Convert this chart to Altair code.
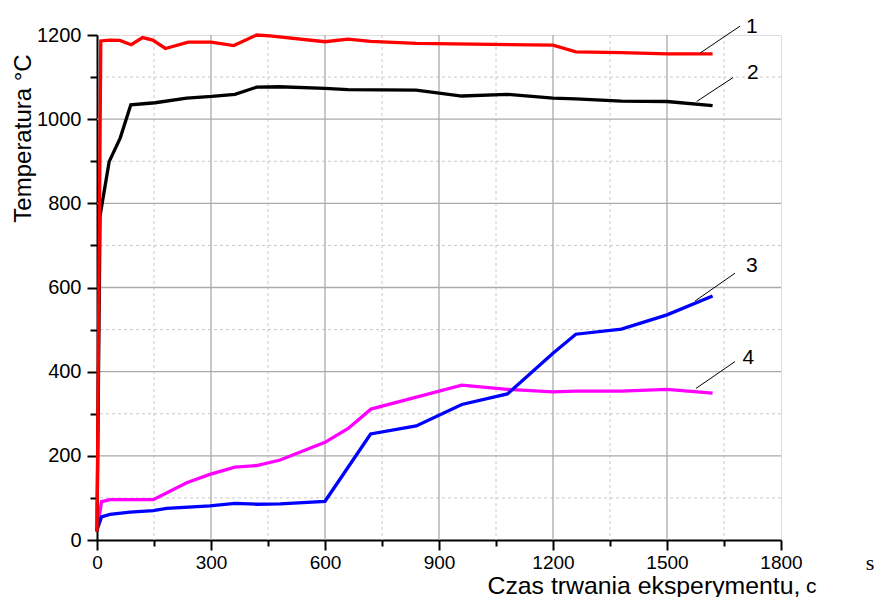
import altair as alt
import pandas as pd

# ---- data ----
red_t = [0, 10, 34, 60, 90, 120, 147, 180, 240, 300, 360, 420, 455, 600, 660, 720, 840, 1200, 1260, 1380, 1500, 1620]
red_v = [20, 1186, 1188, 1187, 1177, 1194, 1188, 1168, 1183, 1183, 1175, 1200, 1198, 1184, 1190, 1185, 1180, 1176, 1160, 1158, 1155, 1155]

black_t = [0, 8, 32, 61, 89, 153, 236, 302, 363, 420, 480, 600, 660, 840, 960, 1080, 1200, 1260, 1380, 1500, 1620]
black_v = [20, 770, 899, 955, 1034, 1039, 1050, 1054, 1059, 1076, 1077, 1073, 1070, 1069, 1055, 1059, 1050, 1048, 1043, 1042, 1032]

blue_t = [0, 12, 34, 87, 148, 183, 297, 363, 420, 482, 600, 720, 840, 960, 1080, 1200, 1260, 1380, 1500, 1620]
blue_v = [24, 55, 61, 66, 70, 75, 81, 87, 85, 86, 92, 252, 271, 322, 347, 444, 489, 501, 535, 580]

mag_t = [0, 12, 34, 148, 236, 297, 363, 420, 482, 600, 661, 721, 960, 1080, 1200, 1260, 1380, 1500, 1620]
mag_v = [24, 91, 96, 96, 136, 156, 173, 177, 190, 232, 265, 311, 368, 358, 352, 354, 354, 358, 349]

x_major = [0, 300, 600, 900, 1200, 1500, 1800]
x_minor = [150, 450, 750, 1050, 1350, 1650]
y_major = [0, 200, 400, 600, 800, 1000, 1200]
y_minor = [100, 300, 500, 700, 900, 1100]

xgrid_major = [300, 600, 900, 1200, 1500]
ygrid_major = [200, 400, 600, 800, 1000]

label_text = ["1", "2", "3", "4"]
label_x = [1723, 1726, 1723, 1714]
label_y = [1220, 1110, 650, 432]
leader_x = [1587, 1578, 1574, 1576]
leader_y = [1157, 1042, 568, 360]
leader_x2 = [1692, 1674, 1679, 1679]
leader_y2 = [1221, 1099, 634, 424]

FONT = "Liberation Sans"
xs = alt.Scale(domain=[0, 1800], nice=False)
ys = alt.Scale(domain=[0, 1200], nice=False)


def line(t, v, color):
    df = pd.DataFrame({"t": t, "v": v})
    return alt.Chart(df).mark_line(color=color, strokeWidth=3.3, strokeJoin="miter").encode(
        x=alt.X("t:Q", scale=xs, axis=None),
        y=alt.Y("v:Q", scale=ys, axis=None),
    )


# grid lines
gx_major = alt.Chart(pd.DataFrame({"g": xgrid_major})).mark_rule(color="#aaaaaa", strokeWidth=1.3).encode(
    x=alt.X("g:Q", scale=xs, axis=None))
gx_minor = alt.Chart(pd.DataFrame({"g": x_minor})).mark_rule(color="#c8c8c8", strokeWidth=1, strokeDash=[3, 3]).encode(
    x=alt.X("g:Q", scale=xs, axis=None))
gy_major = alt.Chart(pd.DataFrame({"g": ygrid_major})).mark_rule(color="#aaaaaa", strokeWidth=1.3).encode(
    y=alt.Y("g:Q", scale=ys, axis=None))
gy_minor = alt.Chart(pd.DataFrame({"g": y_minor})).mark_rule(color="#c8c8c8", strokeWidth=1, strokeDash=[3, 3]).encode(
    y=alt.Y("g:Q", scale=ys, axis=None))

# major axes (with labels and titles)
major_axes = alt.Chart(pd.DataFrame({"t": [0], "v": [0]})).mark_point(opacity=0).encode(
    x=alt.X("t:Q", scale=xs, axis=alt.Axis(
        orient="bottom", values=x_major, format="d", grid=False, tickSize=10, tickWidth=2, tickColor="black",
        domainColor="black", domainWidth=2, labelFont=FONT, labelFontSize=19, labelColor="black",
        labelPadding=3, labelFlush=False, labelOverlap=False,
        title="Czas trwania eksperymentu,", titleFont=FONT, titleFontSize=24.8, titleFontWeight="normal",
        titleColor="black", titleX=390, titleY=53, titleAlign="left", titleBaseline="alphabetic")),
    y=alt.Y("v:Q", scale=ys, axis=alt.Axis(
        orient="left", values=y_major, format="d", grid=False, tickSize=10, tickWidth=2, tickColor="black",
        domainColor="black", domainWidth=2, labelFont=FONT, labelFontSize=20, labelColor="black",
        labelPadding=6, labelFlush=False, labelOverlap=False,
        title="Temperatura °C", titleFont=FONT, titleFontSize=24, titleFontWeight="normal",
        titleColor="black", titleX=-74, titleY=103, titleAngle=270, titleAlign="center",
        titleBaseline="middle")),
)

# minor ticks
minor_axes = alt.Chart(pd.DataFrame({"t": [0], "v": [0]})).mark_point(opacity=0).encode(
    x=alt.X("t:Q", scale=xs, axis=alt.Axis(
        orient="bottom", values=x_minor, grid=False, tickSize=6, tickWidth=2, tickColor="black",
        domain=False, labels=False, title=None)),
    y=alt.Y("v:Q", scale=ys, axis=alt.Axis(
        orient="left", values=y_minor, grid=False, tickSize=7, tickWidth=2, tickColor="black",
        domain=False, labels=False, title=None)),
)

ann = pd.DataFrame({"text": label_text, "lx": label_x, "ly": label_y,
                    "x1": leader_x, "y1": leader_y, "x2": leader_x2, "y2": leader_y2})
leaders = alt.Chart(ann).mark_rule(color="black", strokeWidth=1).encode(
    x=alt.X("x1:Q", scale=xs, axis=None), y=alt.Y("y1:Q", scale=ys, axis=None),
    x2="x2:Q", y2="y2:Q")
labels = alt.Chart(ann).mark_text(font=FONT, fontSize=21, color="black", align="center",
                                  baseline="middle").encode(
    x=alt.X("lx:Q", scale=xs, axis=None), y=alt.Y("ly:Q", scale=ys, axis=None), text="text:N")

unit_c = alt.Chart(pd.DataFrame({"s": ["с"]})).mark_text(font=FONT, fontSize=21, color="black", align="left",
                                                        baseline="alphabetic").encode(
    x=alt.value(709), y=alt.value(558), text="s:N")
unit_s = alt.Chart(pd.DataFrame({"s": ["s"]})).mark_text(font="Liberation Serif", fontSize=22, color="black",
                                                         align="center", baseline="alphabetic").encode(
    x=alt.value(773), y=alt.value(535), text="s:N")

chart = alt.layer(
    gx_minor, gy_minor, gx_major, gy_major,
    minor_axes, major_axes,
    line(mag_t, mag_v, "#ff00ff"),
    line(blue_t, blue_v, "#0000ff"),
    line(black_t, black_v, "#000000"),
    line(red_t, red_v, "#ff0000"),
    leaders, labels, unit_c, unit_s,
).resolve_axis(x="independent", y="independent").properties(
    width=684, height=505,
    autosize=alt.AutoSizeParams(type="none"),
    padding={"left": 89, "top": 27, "right": 95, "bottom": 57},
).configure_view(stroke=None).configure(background="white")

chart.save("out.html", embed_options={"renderer": "svg", "actions": False})
